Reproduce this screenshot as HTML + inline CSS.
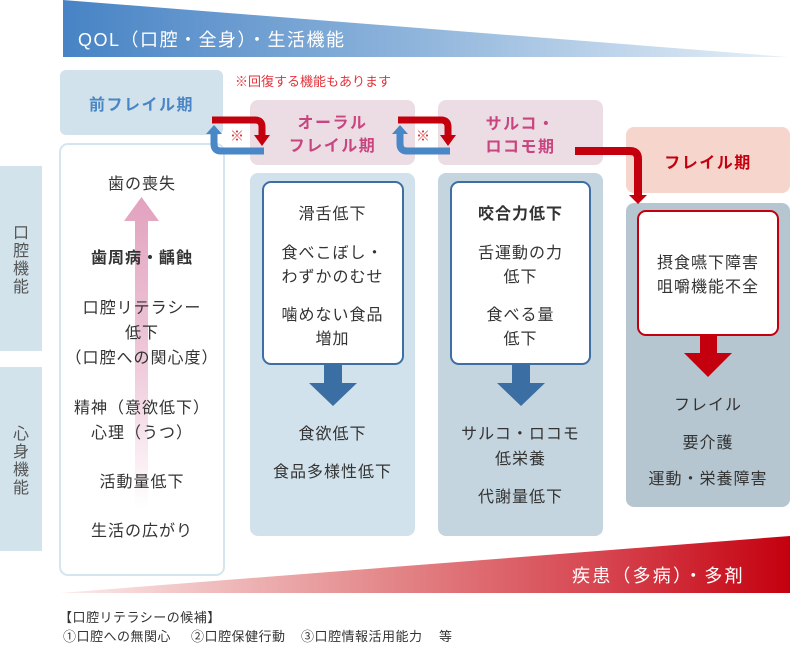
<!DOCTYPE html>
<html>
<head>
<meta charset="utf-8">
<style>
  html,body{margin:0;padding:0;background:#fff;}
  body{width:790px;height:643px;position:relative;overflow:hidden;
    font-family:"Liberation Sans","Noto Sans CJK JP",sans-serif;color:#333;}
  .abs{position:absolute;}
  .box{position:absolute;box-sizing:border-box;}
  .t{position:absolute;text-align:center;font-size:16px;letter-spacing:1px;line-height:20px;height:20px;white-space:nowrap;color:#333;margin-top:2px;}
  .b{font-weight:700;}
  .hd{position:absolute;text-align:center;font-size:16px;letter-spacing:1.5px;line-height:20px;height:20px;font-weight:700;white-space:nowrap;margin-top:2px;}
  .side{position:absolute;left:0;width:42px;text-align:center;font-size:16px;line-height:18px;color:#555;margin-top:2px;}
</style>
</head>
<body>

<!-- background shapes -->
<svg class="abs" style="left:0;top:0" width="790" height="643" viewBox="0 0 790 643">
  <defs>
    <linearGradient id="gBlue" x1="63" y1="0" x2="787" y2="0" gradientUnits="userSpaceOnUse">
      <stop offset="0" stop-color="#4783c5"/>
      <stop offset="0.5" stop-color="#91b6dc"/>
      <stop offset="1" stop-color="#e8f0f8"/>
    </linearGradient>
    <linearGradient id="gRed" x1="60" y1="0" x2="790" y2="0" gradientUnits="userSpaceOnUse">
      <stop offset="0" stop-color="#fbecec"/>
      <stop offset="0.45" stop-color="#e38789"/>
      <stop offset="0.75" stop-color="#d6434e"/>
      <stop offset="1" stop-color="#c4000e"/>
    </linearGradient>
    <linearGradient id="gPink" x1="0" y1="197" x2="0" y2="508" gradientUnits="userSpaceOnUse">
      <stop offset="0" stop-color="#e2a2bf"/>
      <stop offset="0.55" stop-color="#efcbdb"/>
      <stop offset="1" stop-color="#ffffff"/>
    </linearGradient>
  </defs>
  <polygon points="63,0 788,57 63,57" fill="url(#gBlue)"/>
  <polygon points="60,593 790,536 790,593" fill="url(#gRed)"/>
  <!-- sidebars -->
  <rect x="0" y="166" width="42" height="185" fill="#d2e3ec"/>
  <rect x="0" y="367" width="42" height="184" fill="#d2e3ec"/>
</svg>

<!-- header boxes -->
<div class="box" style="left:60px;top:70px;width:163px;height:65px;background:#d1e2ec;border-radius:6px;"></div>
<div class="box" style="left:250px;top:100px;width:165px;height:65px;background:#ecdde5;border-radius:8px;"></div>
<div class="box" style="left:438px;top:100px;width:165px;height:65px;background:#ecdde5;border-radius:8px;"></div>
<div class="box" style="left:626px;top:127px;width:164px;height:66px;background:#f5d5cc;border-radius:8px;"></div>

<!-- column bodies -->
<div class="box" style="left:59px;top:143px;width:166px;height:433px;border:2px solid #d5e5ef;border-radius:9px;background:#fff;"></div>
<div class="box" style="left:250px;top:173px;width:165px;height:363px;background:#d1e2ec;border-radius:8px;"></div>
<div class="box" style="left:438px;top:173px;width:165px;height:363px;background:#c5d5df;border-radius:8px;"></div>
<div class="box" style="left:626px;top:203px;width:164px;height:304px;background:#b6c6d0;border-radius:8px;"></div>

<!-- inner boxes -->
<div class="box" style="left:262px;top:181px;width:142px;height:184px;border:2px solid #3d6fa3;border-radius:9px;background:#fff;"></div>
<div class="box" style="left:450px;top:181px;width:141px;height:184px;border:2px solid #3d6fa3;border-radius:9px;background:#fff;"></div>
<div class="box" style="left:637px;top:210px;width:142px;height:126px;border:2px solid #c4000e;border-radius:9px;background:#fff;"></div>

<!-- arrows -->
<svg class="abs" style="left:0;top:0" width="790" height="643" viewBox="0 0 790 643">
  <!-- pink arrow in left column -->
  <polygon points="135,221 124,221 141.5,197 159,221 148,221 148,508 135,508" fill="url(#gPink)"/>

  <!-- pair 1 -->
  <path d="M212,120 H255 Q262,120 262,127 V136" fill="none" stroke="#c4000e" stroke-width="7"/>
  <polygon points="254,135 270,135 262,146" fill="#c4000e"/>
  <path d="M264,151 H221 Q214,151 214,144 V133" fill="none" stroke="#4a87c7" stroke-width="7"/>
  <polygon points="206,134 222,134 214,125" fill="#4a87c7"/>
  <!-- pair 2 -->
  <path d="M398,120 H441 Q448,120 448,127 V136" fill="none" stroke="#c4000e" stroke-width="7"/>
  <polygon points="440,135 456,135 448,146" fill="#c4000e"/>
  <path d="M450,151 H407 Q400,151 400,144 V133" fill="none" stroke="#4a87c7" stroke-width="7"/>
  <polygon points="392,134 408,134 400,125" fill="#4a87c7"/>

  <!-- big red arrow to frail -->
  <path d="M575,151 H630 Q638,151 638,159 V197" fill="none" stroke="#c4000e" stroke-width="8"/>
  <polygon points="629,195 647,195 638,204" fill="#c4000e"/>

  <!-- blue down arrows -->
  <polygon points="324,364 342,364 342,383 357,383 333,406 309,383 324,383" fill="#3b6ea3"/>
  <polygon points="512,364 530,364 530,383 545,383 521,406 497,383 512,383" fill="#3b6ea3"/>
  <!-- red down arrow -->
  <polygon points="700,335 717,335 717,353 732,353 708,377 684,353 700,353" fill="#c4000e"/>
</svg>

<!-- ※ marks -->
<div class="abs" style="left:228px;top:127px;width:18px;text-align:center;font-size:14px;line-height:18px;color:#e2323a;">※</div>
<div class="abs" style="left:414px;top:127px;width:18px;text-align:center;font-size:14px;line-height:18px;color:#e2323a;">※</div>

<!-- title banners -->
<div class="abs" style="left:78px;top:28px;font-size:18px;letter-spacing:1.5px;line-height:24px;color:#fff;white-space:nowrap;">QOL（口腔・全身）・生活機能</div>
<div class="abs" style="left:572px;top:564px;font-size:18px;letter-spacing:2.2px;line-height:24px;color:#fff;white-space:nowrap;">疾患（多病）・多剤</div>

<!-- note -->
<div class="abs" style="left:235px;top:73px;font-size:13px;line-height:18px;color:#e2323a;white-space:nowrap;">※回復する機能もあります</div>

<!-- sidebar labels -->
<div class="side" style="top:223px;">口<br>腔<br>機<br>能</div>
<div class="side" style="top:424px;">心<br>身<br>機<br>能</div>

<!-- headers text -->
<div class="hd" style="left:60px;width:163px;top:94px;color:#4a86c5;">前フレイル期</div>
<div class="hd" style="left:250px;width:165px;top:112px;color:#c8457f;">オーラル</div>
<div class="hd" style="left:250px;width:165px;top:135px;color:#c8457f;">フレイル期</div>
<div class="hd" style="left:438px;width:165px;top:113px;color:#c8457f;">サルコ・</div>
<div class="hd" style="left:438px;width:165px;top:136px;color:#c8457f;">ロコモ期</div>
<div class="hd" style="left:626px;width:164px;top:152px;color:#c4000e;">フレイル期</div>

<!-- left column text -->
<div class="t" style="left:60px;width:164px;top:173px;">歯の喪失</div>
<div class="t b" style="left:60px;width:164px;top:247px;">歯周病・齲蝕</div>
<div class="t" style="left:60px;width:164px;top:297px;">口腔リテラシー</div>
<div class="t" style="left:60px;width:164px;top:322px;">低下</div>
<div class="t" style="left:60px;width:164px;top:347px;">（口腔への関心度）</div>
<div class="t" style="left:60px;width:164px;top:397px;">精神（意欲低下）</div>
<div class="t" style="left:60px;width:164px;top:422px;">心理（うつ）</div>
<div class="t" style="left:60px;width:164px;top:471px;">活動量低下</div>
<div class="t" style="left:60px;width:164px;top:520px;">生活の広がり</div>

<!-- column 1 text -->
<div class="t" style="left:250px;width:165px;top:203px;">滑舌低下</div>
<div class="t" style="left:250px;width:165px;top:242px;">食べこぼし・</div>
<div class="t" style="left:250px;width:165px;top:266px;">わずかのむせ</div>
<div class="t" style="left:250px;width:165px;top:304px;">噛めない食品</div>
<div class="t" style="left:250px;width:165px;top:328px;">増加</div>
<div class="t" style="left:250px;width:165px;top:423px;">食欲低下</div>
<div class="t" style="left:250px;width:165px;top:461px;">食品多様性低下</div>

<!-- column 2 text -->
<div class="t b" style="left:438px;width:165px;top:203px;">咬合力低下</div>
<div class="t" style="left:438px;width:165px;top:242px;">舌運動の力</div>
<div class="t" style="left:438px;width:165px;top:266px;">低下</div>
<div class="t" style="left:438px;width:165px;top:304px;">食べる量</div>
<div class="t" style="left:438px;width:165px;top:328px;">低下</div>
<div class="t" style="left:438px;width:165px;top:423px;">サルコ・ロコモ</div>
<div class="t" style="left:438px;width:165px;top:448px;">低栄養</div>
<div class="t" style="left:438px;width:165px;top:486px;">代謝量低下</div>

<!-- column 3 text -->
<div class="t" style="left:626px;width:164px;top:252px;">摂食嚥下障害</div>
<div class="t" style="left:626px;width:164px;top:276px;">咀嚼機能不全</div>
<div class="t" style="left:626px;width:164px;top:394px;">フレイル</div>
<div class="t" style="left:626px;width:164px;top:432px;">要介護</div>
<div class="t" style="left:626px;width:164px;top:468px;">運動・栄養障害</div>

<!-- footer -->
<div class="abs" style="left:59px;top:609px;font-size:13px;letter-spacing:0.5px;line-height:18px;color:#333;white-space:nowrap;">【口腔リテラシーの候補】</div>
<div class="abs" style="left:63px;top:628px;font-size:13px;letter-spacing:0.5px;line-height:18px;color:#333;white-space:nowrap;">①口腔への無関心</div>
<div class="abs" style="left:191px;top:628px;font-size:13px;letter-spacing:0.5px;line-height:18px;color:#333;white-space:nowrap;">②口腔保健行動</div>
<div class="abs" style="left:301px;top:628px;font-size:13px;letter-spacing:0.5px;line-height:18px;color:#333;white-space:nowrap;">③口腔情報活用能力</div>
<div class="abs" style="left:439px;top:628px;font-size:13px;letter-spacing:0.5px;line-height:18px;color:#333;white-space:nowrap;">等</div>

</body>
</html>
